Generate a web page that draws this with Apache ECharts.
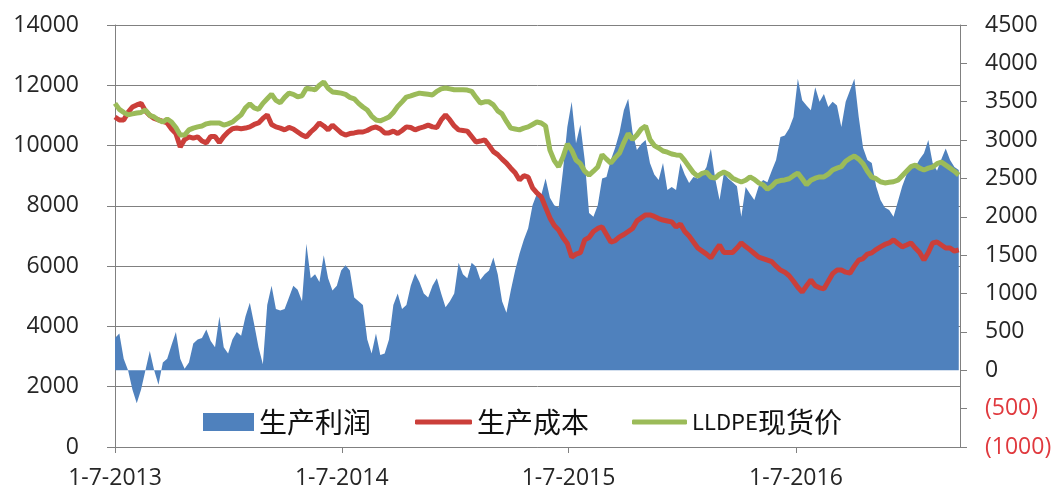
<!DOCTYPE html>
<html><head><meta charset="utf-8">
<script src="https://cdn.jsdelivr.net/npm/echarts@6/dist/echarts.min.js"></script>
<style>html,body{margin:0;padding:0;background:#fff}#c{width:1060px;height:495px}</style>
</head><body><div id="c"></div>
<script>
// weekly observations starting 1-7-2013 (x = days since start)
const stepDays = 7;
const seriesNames = ['生产利润', '生产成本', 'LLDPE现货价'];
// 生产利润 (right axis)
const profit = [420,480,150,0,-250,-430,-250,0,250,0,
 -190,100,150,330,500,150,20,100,350,400,
 420,530,380,300,700,300,220,400,500,450,
 700,880,600,300,80,850,1100,800,780,800,
 950,1100,1050,900,1650,1200,1250,1150,1500,1200,
 1040,1100,1300,1370,1300,950,900,850,400,220,
 480,200,220,400,850,1000,800,850,1100,1260,
 1150,1000,950,1100,1200,1000,820,900,1000,1400,
 1250,1200,1400,1350,1180,1250,1300,1470,1250,900,
 750,1040,1300,1520,1700,1850,2150,2300,2280,2500,
 2250,2150,2120,2600,3170,3500,2960,3200,2740,2050,
 2000,2150,2500,2520,2740,2900,3100,3390,3540,3100,
 2870,2950,3000,2700,2550,2480,2700,2350,2390,2350,
 2700,2550,2440,2520,2500,2550,2650,2890,2500,2220,
 2570,2500,2450,2400,2000,2390,2300,2220,2400,2480,
 2450,2600,2740,3040,3060,3150,3300,3800,3520,3450,
 3390,3690,3500,3600,3430,3500,3450,3170,3500,3650,
 3800,3300,2900,2740,2700,2400,2220,2120,2090,2000,
 2200,2400,2550,2650,2650,2750,2830,3000,2700,2600,
 2750,2890,2740,2650,2610];
// 生产成本 (left axis)
const cost = [10950,10850,10850,11100,11280,11350,11400,11150,11000,10900,
 10850,10800,10750,10550,10400,9950,10200,10290,10250,10290,
 10150,10090,10300,10300,10100,10300,10450,10560,10580,10560,
 10580,10620,10700,10750,10900,11020,10700,10620,10580,10520,
 10600,10550,10450,10350,10290,10450,10580,10750,10650,10520,
 10680,10550,10420,10350,10400,10420,10450,10450,10500,10580,
 10620,10550,10420,10420,10480,10400,10500,10620,10600,10520,
 10580,10620,10680,10620,10600,10850,11020,10850,10650,10520,
 10500,10480,10300,10120,10150,10190,10000,9800,9700,9550,
 9420,9250,9100,8860,9000,8950,8600,8430,8300,7950,
 7600,7350,7200,6950,6750,6300,6400,6450,6870,6950,
 7150,7250,7300,7050,6800,6850,6970,7050,7150,7250,
 7500,7600,7700,7700,7650,7580,7530,7500,7470,7300,
 7400,7150,7000,6800,6600,6500,6400,6270,6500,6700,
 6450,6450,6450,6600,6770,6650,6540,6420,6300,6250,
 6200,6150,6000,5870,5800,5680,5500,5300,5140,5350,
 5540,5350,5280,5250,5500,5750,5870,5870,5800,5770,
 6000,6200,6250,6400,6440,6550,6640,6720,6770,6870,
 6750,6640,6700,6770,6600,6450,6200,6450,6770,6800,
 6700,6600,6600,6500,6540];
// LLDPE现货价 (left axis)
const price = [11400,11200,11100,11020,11050,11080,11100,11180,11000,10950,
 10850,10780,10880,10780,10600,10350,10350,10520,10580,10620,
 10650,10720,10750,10750,10750,10680,10720,10780,10900,11020,
 11250,11380,11250,11200,11400,11550,11700,11500,11420,11600,
 11740,11700,11620,11650,11900,11880,11850,12000,12110,11900,
 11780,11760,11740,11700,11600,11550,11400,11280,11180,10980,
 10850,10820,10880,10950,11100,11300,11450,11610,11650,11700,
 11740,11720,11700,11680,11800,11880,11910,11880,11850,11850,
 11850,11840,11800,11600,11410,11450,11450,11350,11150,11050,
 10800,10580,10550,10520,10580,10620,10700,10780,10750,10650,
 9850,9500,9300,9620,10050,9850,9520,9400,9150,9020,
 9150,9290,9700,9550,9420,9600,9750,10100,10400,10200,
 10350,10550,10650,10200,10000,9920,9820,9780,9720,9690,
 9680,9500,9300,9100,8980,9080,9120,8950,8920,9050,
 9120,9050,8920,8850,8790,8850,8960,8880,8760,8700,
 8550,8650,8800,8840,8860,8900,9000,9090,8900,8700,
 8850,8920,8960,8960,9050,9190,9250,9300,9480,9580,
 9650,9550,9400,9150,8950,8900,8800,8760,8780,8800,
 8850,9000,9150,9300,9350,9250,9190,9250,9290,9400,
 9450,9350,9250,9150,9020];
const tickDays = [0, 365, 730, 1096];
const tickLabels = ['1-7-2013', '1-7-2014', '1-7-2015', '1-7-2016'];
const xMaxDays = 1360;

const toPairs = arr => arr.map((v, i) => [i * stepDays, v]);
const axisGrey = '#808080';
const labelFont = 'Open Sans';

const chart = echarts.init(document.getElementById('c'));
chart.setOption({
  animation: false,
  backgroundColor: '#ffffff',
  grid: { left: 115, right: 100, top: 25, bottom: 48 },
  xAxis: {
    type: 'value', min: 0, max: xMaxDays,
    axisLine: { show: true, lineStyle: { color: axisGrey, width: 1 } },
    axisTick: { show: true, length: 6, customValues: tickDays, lineStyle: { color: axisGrey } },
    axisLabel: {
      customValues: tickDays, margin: 20,
      fontFamily: labelFont, fontSize: 23, color: '#262626',
      formatter: v => tickLabels[tickDays.indexOf(v)] || ''
    },
    splitLine: { show: false }
  },
  yAxis: [{
    type: 'value', min: 0, max: 14000, interval: 2000, position: 'left',
    axisLine: { show: true, lineStyle: { color: axisGrey } },
    axisTick: { show: true, length: 8, lineStyle: { color: axisGrey } },
    axisLabel: { margin: 36, fontFamily: labelFont, fontSize: 23, color: '#262626', formatter: v => String(v) },
    splitLine: { show: true, lineStyle: { color: axisGrey, width: 1 } }
  }, {
    type: 'value', min: -1000, max: 4500, interval: 500, position: 'right',
    axisLine: { show: true, lineStyle: { color: axisGrey } },
    axisTick: { show: true, length: 7, lineStyle: { color: axisGrey } },
    axisLabel: {
      margin: 25, fontFamily: labelFont, fontSize: 23, color: '#262626',
      formatter: v => v < 0 ? '{neg|(' + Math.abs(v) + ')}' : String(v),
      rich: { neg: { color: '#E0393E', fontFamily: labelFont, fontSize: 23 } }
    },
    splitLine: { show: false }
  }],
  legend: [{
    data: [seriesNames[0]], left: 203, top: 408, padding: 0,
    icon: 'rect', itemWidth: 51, itemHeight: 18, itemGap: 0,
    itemStyle: { borderWidth: 0 },
    textStyle: { fontFamily: 'Noto Sans CJK SC', fontSize: 28, color: '#111' }
  }, {
    data: [seriesNames[1]], left: 415, top: 408, padding: 0,
    icon: 'roundRect', itemWidth: 57, itemHeight: 5,
    itemStyle: { borderWidth: 0 },
    textStyle: { fontFamily: 'Noto Sans CJK SC', fontSize: 28, color: '#111' }
  }, {
    data: [seriesNames[2]], left: 632, top: 408, padding: 0,
    icon: 'roundRect', itemWidth: 55, itemHeight: 5,
    itemStyle: { borderWidth: 0 },
    formatter: () => '{a|LLDPE}{b|现货价}',
    textStyle: {
      fontFamily: 'Noto Sans CJK SC', fontSize: 28, color: '#111',
      rich: {
        a: { fontFamily: 'Noto Sans CJK SC', fontSize: 22, color: '#111' },
        b: { fontFamily: 'Noto Sans CJK SC', fontSize: 28, color: '#111' }
      }
    }
  }],
  series: [{
    name: seriesNames[0], type: 'line', yAxisIndex: 1,
    data: toPairs(profit), showSymbol: false, symbol: 'none',
    lineStyle: { width: 0 }, itemStyle: { color: '#4F81BD' },
    areaStyle: { color: '#4F81BD', opacity: 1 }, z: 1
  }, {
    name: seriesNames[1], type: 'line', yAxisIndex: 0,
    data: toPairs(cost), showSymbol: false, symbol: 'none',
    lineStyle: { width: 5, color: '#CB3F3A' }, itemStyle: { color: '#CB3F3A' }, z: 2
  }, {
    name: seriesNames[2], type: 'line', yAxisIndex: 0,
    data: toPairs(price), showSymbol: false, symbol: 'none',
    lineStyle: { width: 5, color: '#9BBB59' }, itemStyle: { color: '#9BBB59' }, z: 3
  }]
});
</script></body></html>
